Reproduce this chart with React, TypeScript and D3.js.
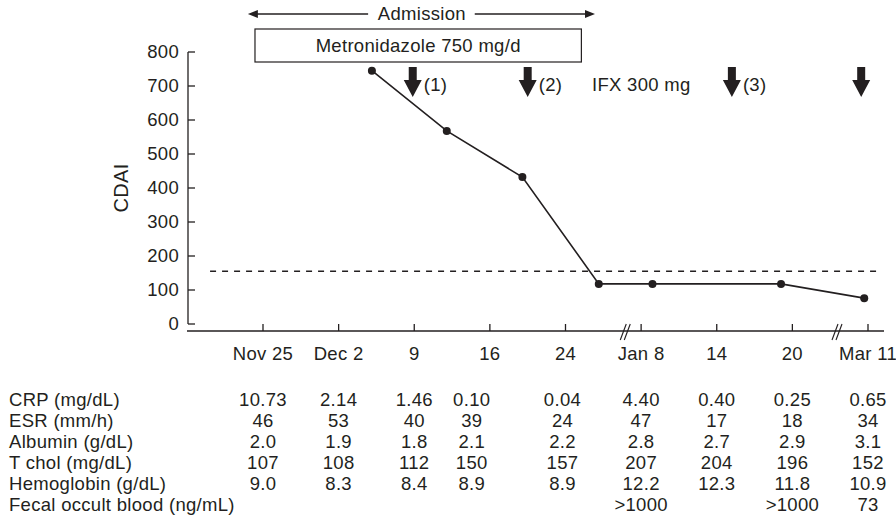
import * as d3 from 'd3';

// x positions are in "tick index" units (0 = Nov 25 ... 8 = Mar 11)
const tickLabels = ['Nov 25', 'Dec 2', '9', '16', '24', 'Jan 8', '14', '20', 'Mar 11'];
const breakAt = [4.79, 7.59];

const cdaiX = [1.44, 2.43, 3.43, 4.44, 5.15, 6.85, 7.95];
const cdaiY = [745, 568, 432, 118, 118, 118, 76];

const remissionLine = 155;

const arrowX = [1.98, 3.5, 6.2, 7.91];
const arrowLabels = ['(1)', '(2)', '(3)', ''];

const tableLabels = [
  'CRP (mg/dL)',
  'ESR (mm/h)',
  'Albumin (g/dL)',
  'T chol (mg/dL)',
  'Hemoglobin (g/dL)',
  'Fecal occult blood (ng/mL)',
];
const tableCols = [0, 1, 2, 2.76, 3.96, 5, 6, 7, 8];
const crp = ['10.73', '2.14', '1.46', '0.10', '0.04', '4.40', '0.40', '0.25', '0.65'];
const esr = ['46', '53', '40', '39', '24', '47', '17', '18', '34'];
const albumin = ['2.0', '1.9', '1.8', '2.1', '2.2', '2.8', '2.7', '2.9', '3.1'];
const tchol = ['107', '108', '112', '150', '157', '207', '204', '196', '152'];
const hemoglobin = ['9.0', '8.3', '8.4', '8.9', '8.9', '12.2', '12.3', '11.8', '10.9'];
const fecal = ['', '', '', '', '', '>1000', '', '>1000', '73'];
const tableRows = [crp, esr, albumin, tchol, hemoglobin, fecal];

const yTicks = [0, 100, 200, 300, 400, 500, 600, 700, 800];

export default function App() {
  const width = 896;
  const height = 525;
  const ink = '#231f20';
  const font = '"Liberation Sans", Arial, Helvetica, sans-serif';
  const fs = 18.5;

  const x = d3.scaleLinear().domain([0, 8]).range([263, 868]);
  const y = d3.scaleLinear().domain([0, 800]).range([324, 52]);

  const axisX0 = 187;
  const axisX1 = 884;
  const axisY = 331;

  const pts = cdaiX.map((d, i) => [x(d), y(cdaiY[i])] as [number, number]);
  const line = d3.line()(pts) ?? '';

  const rowY = d3.scaleLinear().domain([0, 5]).range([400, 505]);

  // arrow shape: shaft + head
  const arrowPath = (cx: number) => {
    const top = 67, neck = 80, tip = 97;
    return `M${cx - 4},${top} L${cx + 4},${top} L${cx + 4},${neck} L${cx + 9},${neck} L${cx},${tip} L${cx - 9},${neck} L${cx - 4},${neck} Z`;
  };

  return (
    <svg
      width={width}
      height={height}
      style={{ position: 'absolute', left: 0, top: 0, background: '#fff' }}
      fontFamily={font}
      fill={ink}
      letterSpacing={0.3}
    >
      <rect width={width} height={height} fill="#fff" />

      {/* Admission arrow */}
      <g stroke={ink} strokeWidth={1.5}>
        <line x1={x(-0.2) + 8} x2={x(1.39)} y1={14} y2={14} />
        <line x1={x(2.8)} x2={x(4.39) - 8} y1={14} y2={14} />
      </g>
      <path d={`M${x(-0.2)},14 l10,-4 l0,8 Z`} fill={ink} />
      <path d={`M${x(4.39)},14 l-10,-4 l0,8 Z`} fill={ink} />
      <text x={x(2.1)} y={14} dy="0.35em" textAnchor="middle" fontSize={fs}>
        Admission
      </text>

      {/* Metronidazole box */}
      <rect x={x(-0.106)} y={29} width={x(4.21) - x(-0.106)} height={33} fill="none" stroke={ink} strokeWidth={1.2} />
      <text x={(x(-0.106) + x(4.21)) / 2} y={45.5} dy="0.35em" textAnchor="middle" fontSize={fs}>
        Metronidazole 750 mg/d
      </text>

      {/* IFX arrows */}
      {arrowX.map((d, i) => (
        <g key={i}>
          <path d={arrowPath(x(d))} fill={ink} />
          {arrowLabels[i] && (
            <text x={x(d) + 11} y={85} dy="0.35em" fontSize={fs}>
              {arrowLabels[i]}
            </text>
          )}
        </g>
      ))}
      <text x={592} y={85} dy="0.35em" fontSize={fs}>
        IFX 300 mg
      </text>

      {/* Y axis */}
      <line x1={188} x2={188} y1={y(800)} y2={y(0)} stroke={ink} strokeWidth={1.3} />
      {yTicks.map((t) => (
        <g key={t}>
          <line x1={188} x2={195} y1={y(t)} y2={y(t)} stroke={ink} strokeWidth={1.3} />
          <text x={179} y={y(t)} dy="0.35em" textAnchor="end" fontSize={fs}>
            {t}
          </text>
        </g>
      ))}
      <text
        transform={`translate(121,${(y(0) + y(800)) / 2}) rotate(-90)`}
        textAnchor="middle"
        dy="0.35em"
        fontSize={20}
      >
        CDAI
      </text>

      {/* X axis */}
      <line x1={axisX0} x2={axisX1} y1={axisY} y2={axisY} stroke={ink} strokeWidth={1.3} />
      {tickLabels.map((t, i) => (
        <g key={t}>
          <line x1={x(i)} x2={x(i)} y1={axisY} y2={axisY - 7} stroke={ink} strokeWidth={1.3} />
          <text x={x(i)} y={354} dy="0.35em" textAnchor="middle" fontSize={fs}>
            {t}
          </text>
        </g>
      ))}
      {breakAt.map((b, i) => (
        <g key={i} stroke={ink} strokeWidth={1.1}>
          <line x1={x(b) - 5} x2={x(b) + 1} y1={axisY + 9} y2={axisY - 7} />
          <line x1={x(b) - 1} x2={x(b) + 5} y1={axisY + 9} y2={axisY - 7} />
        </g>
      ))}

      {/* Remission threshold */}
      <line
        x1={x(-0.7)}
        x2={x(8.12)}
        y1={y(remissionLine)}
        y2={y(remissionLine)}
        stroke={ink}
        strokeWidth={1.4}
        strokeDasharray="6,6"
      />

      {/* CDAI series */}
      <path d={line} fill="none" stroke={ink} strokeWidth={1.6} />
      {pts.map((p, i) => (
        <circle key={i} cx={p[0]} cy={p[1]} r={4} fill={ink} />
      ))}

      {/* Lab table */}
      {tableLabels.map((lab, r) => (
        <g key={lab}>
          <text x={9} y={rowY(r)} dy="0.35em" fontSize={fs}>
            {lab}
          </text>
          {tableRows[r].map((v, c) =>
            v ? (
              <text key={c} x={x(tableCols[c])} y={rowY(r)} dy="0.35em" textAnchor="middle" fontSize={fs}>
                {v}
              </text>
            ) : null
          )}
        </g>
      ))}
    </svg>
  );
}
